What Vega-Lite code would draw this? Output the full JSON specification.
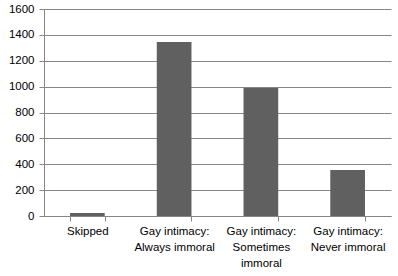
{
  "$schema": "https://vega.github.io/schema/vega-lite/v6.json",
  "width": 347,
  "height": 207,
  "autosize": {"type": "none"},
  "padding": {"left": 44, "top": 9, "right": 7, "bottom": 60},
  "background": "#ffffff",
  "config": {
    "view": {"stroke": null},
    "font": "Liberation Sans"
  },
  "data": {
    "values": [
      {"category": "Skipped", "count": 23},
      {"category": "Gay intimacy: Always immoral", "count": 1345},
      {"category": "Gay intimacy: Sometimes immoral", "count": 989},
      {"category": "Gay intimacy: Never immoral", "count": 356}
    ]
  },
  "mark": {"type": "bar", "color": "#606060"},
  "encoding": {
    "x": {
      "field": "category",
      "type": "nominal",
      "sort": null,
      "scale": {"paddingInner": 0.6, "paddingOuter": 0.3},
      "axis": {
        "title": null,
        "labelAngle": 0,
        "labelFont": "Liberation Sans",
        "labelFontSize": 11.5,
        "labelColor": "#000000",
        "labelLineHeight": 16,
        "labelPadding": 4,
        "labelBaseline": "top",
        "labelLimit": 200,
        "tickBand": "extent",
        "tickSize": 5,
        "tickColor": "#868686",
        "domainColor": "#868686",
        "labelExpr": "datum.value == 'Gay intimacy: Always immoral' ? ['Gay intimacy:', 'Always immoral'] : datum.value == 'Gay intimacy: Sometimes immoral' ? ['Gay intimacy:', 'Sometimes', 'immoral'] : datum.value == 'Gay intimacy: Never immoral' ? ['Gay intimacy:', 'Never immoral'] : datum.value"
      }
    },
    "y": {
      "field": "count",
      "type": "quantitative",
      "scale": {"domain": [0, 1600], "nice": false},
      "axis": {
        "title": null,
        "format": "d",
        "values": [0, 200, 400, 600, 800, 1000, 1200, 1400, 1600],
        "labelFont": "Liberation Sans",
        "labelFontSize": 11.5,
        "labelColor": "#000000",
        "labelPadding": 5,
        "tickSize": 5,
        "tickColor": "#868686",
        "domainColor": "#868686",
        "gridColor": "#868686",
        "grid": true
      }
    }
  }
}
